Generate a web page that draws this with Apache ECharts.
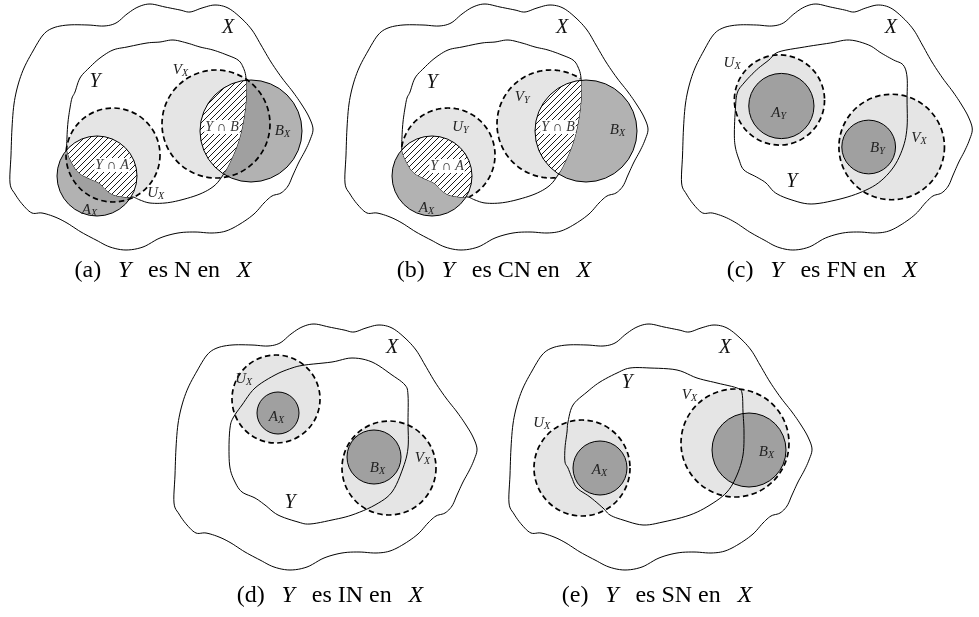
<!DOCTYPE html>
<html><head><meta charset="utf-8">
<script src="https://cdn.jsdelivr.net/npm/echarts@6/dist/echarts.min.js"></script>
<style>html,body{margin:0;padding:0;background:#fff}#c{width:979px;height:617px}</style>
</head><body><div id="c"></div>
<script>
// ---------- DATA (panel-local diagram coordinates) ----------
// outline of the space X (same in all five panels)
const outlineX = [[10,183],[11,155],[12,128],[14,104],[18,85],[24,68],[33,51],[43,35],[53,28],[68,25],[88,25],[104,26],[116,23],[127,14],[138,7],[150,4],[165,7],[180,10],[190,12],[202,8],[215,5],[228,8],[241,18],[252,30],[261,45],[271,62],[282,78],[293,92],[302,105],[309,117],[313,129],[310,140],[305,151],[299,162],[293,175],[288,186],[281,193],[272,196],[264,203],[254,214],[240,224],[226,231],[212,233],[195,232],[178,233],[160,238],[143,247],[126,250],[110,247],[96,240],[81,232],[67,223],[55,217],[42,213],[32,213],[23,205],[15,194]];
// outlines of the subset Y
const outlineY_ab = [[80,78],[89,68],[100,58],[113,50],[127,47],[147,43],[160,42],[173,40],[187,43],[200,47],[213,50],[227,55],[238,60],[243,67],[246,78],[246,100],[243,123],[238,143],[231,160],[223,175],[214,186],[200,194],[181,200],[165,203],[150,203],[140,200],[133,197],[125,197],[114,195],[106,190],[99,183],[88,178],[78,172],[71,161],[67,150],[67,137],[68,122],[70,108],[72,98],[75,92]];
const outlineY_c = [[111,52],[138,47],[165,43],[185,40],[205,45],[218,53],[231,60],[241,65],[245,77],[245,100],[245,127],[241,147],[231,167],[215,183],[195,193],[171,200],[145,204],[125,200],[108,193],[98,183],[88,177],[75,170],[70,160],[66,147],[65,133],[66,110],[68,93],[75,83],[88,70],[101,60]];
const outlineY_d = [[141,45],[168,42],[188,38],[208,42],[228,55],[241,65],[244,75],[244,102],[244,128],[239,148],[228,172],[211,185],[188,195],[168,200],[146,204],[134,202],[114,195],[101,185],[91,178],[78,172],[71,162],[66,148],[65,128],[66,108],[69,98],[78,85],[91,68],[111,55],[128,48]];
const outlineY_e = [[69,102],[74,85],[88,72],[101,62],[118,53],[131,48],[151,48],[178,50],[198,58],[218,63],[238,68],[243,73],[244,92],[245,112],[244,135],[238,155],[228,172],[211,185],[191,195],[164,202],[144,205],[124,200],[111,195],[104,188],[91,177],[78,168],[73,158],[69,148],[66,142],[66,128],[68,112]];
// circles [cx, cy, r] in order: U, A, V, B
const circles_a = [[113,155,47],[97,176,40],[216,124,54],[251,131,51]];
const circles_b = [[113,155,47],[97,176,40],[216,124,54],[251,131,51]];
const circles_c = [[112,100,47],[114,106,34],[229,147,55],[205,147,28]];
const circles_d = [[112,79,44],[114,93,21],[225,148,47],[210,137,27]];
const circles_e = [[83,148,48],[101,148,27],[236,123,54],[250,130,37]];
// labels [main, subscript, x, y]
const labels_a = [['X','',228,28],['Y','',95,82],['V','X',181,70],['B','X',283,131],['Y∩B','',222,127],['Y∩A','',112,165],['U','X',157,193],['A','X',90,210]];
const labels_b = [['X','',227,28],['Y','',97,83],['U','Y',127,127],['V','Y',188,97],['Y∩B','',223,127],['B','X',283,130],['Y∩A','',112,166],['A','X',92,208]];
const labels_c = [['X','',228,28],['U','X',64,63],['A','Y',112,113],['B','Y',215,148],['V','X',258,138],['Y','',125,182]];
const labels_d = [['X','',228,28],['U','X',81,59],['A','X',113,97],['B','X',214,148],['V','X',259,138],['Y','',126,183]];
const labels_e = [['X','',226,28],['Y','',128,63],['U','X',44,103],['A','X',101,150],['V','X',191,75],['B','X',268,132]];
// captions
const captionLetters = ['(a)','(b)','(c)','(d)','(e)'];
const captionWords = ['N','CN','FN','IN','SN'];

// ---------- drawing helpers ----------
const FONT = '"Liberation Serif", "DejaVu Serif", serif';
const hc = document.createElement('canvas'); hc.width = 6; hc.height = 6;
(function(){ const g = hc.getContext('2d'); g.strokeStyle = '#000'; g.lineWidth = 0.9; g.beginPath();
  g.moveTo(0,6); g.lineTo(6,0); g.moveTo(-1,1); g.lineTo(1,-1); g.moveTo(5,7); g.lineTo(7,5); g.stroke(); })();
const hatch = { image: hc, repeat: 'repeat' };

function smoothClosed(p, n) {
  n = n || 6; const out = []; const L = p.length;
  for (let i = 0; i < L; i++) {
    const p0 = p[(i - 1 + L) % L], p1 = p[i], p2 = p[(i + 1) % L], p3 = p[(i + 2) % L];
    for (let k = 0; k < n; k++) {
      const t = k / n, t2 = t * t, t3 = t2 * t;
      const f = (a, b, c, d) => 0.5 * ((2 * b) + (-a + c) * t + (2 * a - 5 * b + 4 * c - d) * t2 + (-a + 3 * b - 3 * c + d) * t3);
      out.push([f(p0[0], p1[0], p2[0], p3[0]), f(p0[1], p1[1], p2[1], p3[1])]);
    }
  }
  return out;
}
function circlePts(c, N) { const o = []; for (let i = 0; i < N; i++) { const a = 2 * Math.PI * i / N; o.push([c.cx + c.r * Math.cos(a), c.cy + c.r * Math.sin(a)]); } return o; }
function clipByCircle(subject, c) {
  const clip = circlePts(c, 144); let out = subject;
  for (let i = 0; i < clip.length; i++) {
    const a = clip[i], b = clip[(i + 1) % clip.length];
    const side = p => (b[0] - a[0]) * (p[1] - a[1]) - (b[1] - a[1]) * (p[0] - a[0]);
    const sc = side([c.cx, c.cy]);
    const inp = out; out = []; if (!inp.length) break;
    for (let j = 0; j < inp.length; j++) {
      const P = inp[j], Q = inp[(j + 1) % inp.length];
      const sp = side(P) * sc, sq = side(Q) * sc;
      if (sp >= 0) out.push(P);
      if ((sp >= 0) !== (sq >= 0)) { const t = sp / (sp - sq); out.push([P[0] + (Q[0] - P[0]) * t, P[1] + (Q[1] - P[1]) * t]); }
    }
  }
  return out;
}
function pip(p, poly) {
  let ins = false;
  for (let i = 0, j = poly.length - 1; i < poly.length; j = i++) {
    const xi = poly[i][0], yi = poly[i][1], xj = poly[j][0], yj = poly[j][1];
    if (((yi > p[1]) !== (yj > p[1])) && (p[0] < (xj - xi) * (p[1] - yi) / (yj - yi) + xi)) ins = !ins;
  }
  return ins;
}
function arcsInside(c, poly) {
  const pts = circlePts(c, 360); const inside = pts.map(p => pip(p, poly));
  const s = inside.indexOf(false); if (s < 0) return [pts.concat([pts[0]])];
  const runs = []; let cur = null;
  for (let k = 1; k <= pts.length; k++) {
    const i = (s + k) % pts.length;
    if (inside[i]) { if (!cur) cur = []; cur.push(pts[i]); } else if (cur) { runs.push(cur); cur = null; }
  }
  if (cur) runs.push(cur);
  return runs;
}

const LINE = { stroke: '#000', lineWidth: 1, fill: 'none' };
const DASH = { stroke: '#000', lineWidth: 1.7, fill: 'none', lineDash: [5.5, 3.4] };
const LIGHT = 'rgba(0,0,0,0.1)', DARK = 'rgba(0,0,0,0.3)';

function makeRender(outlineY, circles, labels, mode) {
  return function (params, api) {
    const px = pts => pts.map(p => api.coord(p));
    const X = smoothClosed(px(outlineX), 6);
    const Y = smoothClosed(px(outlineY), 6);
    const C = circles.map(c => { const o = api.coord([c[0], c[1]]); const e = api.coord([c[0] + c[2], c[1]]); return { cx: o[0], cy: o[1], r: Math.abs(e[0] - o[0]) }; });
    const [U, A, V, B] = C;
    const ch = [];
    const circ = (c, style) => ({ type: 'circle', shape: { cx: c.cx, cy: c.cy, r: c.r }, style: style });
    if (mode === 'b') {
      ch.push({ type: 'polygon', shape: { points: clipByCircle(Y, U) }, style: { fill: LIGHT } });
      ch.push({ type: 'polygon', shape: { points: clipByCircle(Y, V) }, style: { fill: LIGHT } });
    } else {
      ch.push(circ(U, { fill: LIGHT })); ch.push(circ(V, { fill: LIGHT }));
    }
    ch.push(circ(A, { fill: DARK })); ch.push(circ(B, { fill: DARK }));
    ch.push({ type: 'polygon', shape: { points: Y }, style: LINE });
    if (mode === 'a' || mode === 'b') {
      [A, B].forEach(c => {
        const pts = clipByCircle(Y, c);
        ch.push({ type: 'polygon', shape: { points: pts }, style: { fill: '#fff' } });
        ch.push({ type: 'polygon', shape: { points: pts }, style: { fill: hatch } });
      });
    }
    ch.push(circ(A, LINE)); ch.push(circ(B, LINE));
    if (mode === 'b') {
      [U, V].forEach(c => arcsInside(c, Y).forEach(run => ch.push({ type: 'polyline', shape: { points: run }, style: DASH })));
    } else {
      ch.push(circ(U, DASH)); ch.push(circ(V, DASH));
    }
    ch.push({ type: 'polygon', shape: { points: X }, style: LINE });
    labels.forEach(l => {
      const p = api.coord([l[2], l[3]]);
      if (l[0].indexOf('∩') >= 0) {
        const parts = l[0].split('∩');
        ch.push({ type: 'text', x: p[0], y: p[1], style: { text: '{i|' + parts[0] + '} ∩ {i|' + parts[1] + '}', rich: { i: { fontStyle: 'italic', fontFamily: FONT, fontSize: 14, fill: '#333' } }, fontFamily: FONT, fontSize: 14, fill: '#333', align: 'center', verticalAlign: 'middle', backgroundColor: '#fff', padding: [0, 1] } });
      } else if (!l[1]) {
        ch.push({ type: 'text', x: p[0], y: p[1], style: { text: l[0], fontStyle: 'italic', fontFamily: FONT, fontSize: 20, fill: '#111', align: 'center', verticalAlign: 'middle' } });
      } else {
        ch.push({ type: 'text', x: p[0] + 1, y: p[1], style: { text: l[0], fontStyle: 'italic', fontFamily: FONT, fontSize: 15, fill: '#222', align: 'right', verticalAlign: 'middle' } });
        ch.push({ type: 'text', x: p[0] + 1, y: p[1] + 3.5, style: { text: l[1], fontStyle: 'italic', fontFamily: FONT, fontSize: 10, fill: '#222', align: 'left', verticalAlign: 'middle' } });
      }
    });
    return { type: 'group', children: ch };
  };
}

const panels = [
  { off: [0, 0], Y: outlineY_ab, C: circles_a, L: labels_a, mode: 'a' },
  { off: [335, 0], Y: outlineY_ab, C: circles_b, L: labels_b, mode: 'b' },
  { off: [672, 0], Y: outlineY_c, C: circles_c, L: labels_c, mode: 'p' },
  { off: [164, 320], Y: outlineY_d, C: circles_d, L: labels_d, mode: 'p' },
  { off: [499, 320], Y: outlineY_e, C: circles_e, L: labels_e, mode: 'p' }
];
const W = 320, H = 255;
const capPos = [[163, 271], [494, 271], [822, 271], [330, 596], [657, 596]];
const GAP = '  \u2009';

const chart = echarts.init(document.getElementById('c'), null, { renderer: 'canvas' });
chart.setOption({
  animation: false,
  backgroundColor: '#fff',
  grid: panels.map(p => ({ left: p.off[0], top: p.off[1], width: W, height: H, containLabel: false })),
  xAxis: panels.map((p, i) => ({ type: 'value', gridIndex: i, min: 0, max: W, show: false })),
  yAxis: panels.map((p, i) => ({ type: 'value', gridIndex: i, min: 0, max: H, inverse: true, show: false })),
  series: panels.map((p, i) => ({
    type: 'custom', xAxisIndex: i, yAxisIndex: i, silent: true,
    data: [[0, 0]], renderItem: makeRender(p.Y, p.C, p.L, p.mode)
  })),
  graphic: captionLetters.map((c, i) => ({
    type: 'text', x: capPos[i][0], y: capPos[i][1],
    style: { text: c + GAP + '{i|Y}' + GAP + 'es ' + captionWords[i] + ' en' + GAP + '{i|X}', rich: { i: { fontStyle: 'italic', fontFamily: FONT, fontSize: 24, fill: '#000' } }, fontFamily: FONT, fontSize: 24, fill: '#000', align: 'center', verticalAlign: 'middle' }
  }))
});
</script></body></html>
